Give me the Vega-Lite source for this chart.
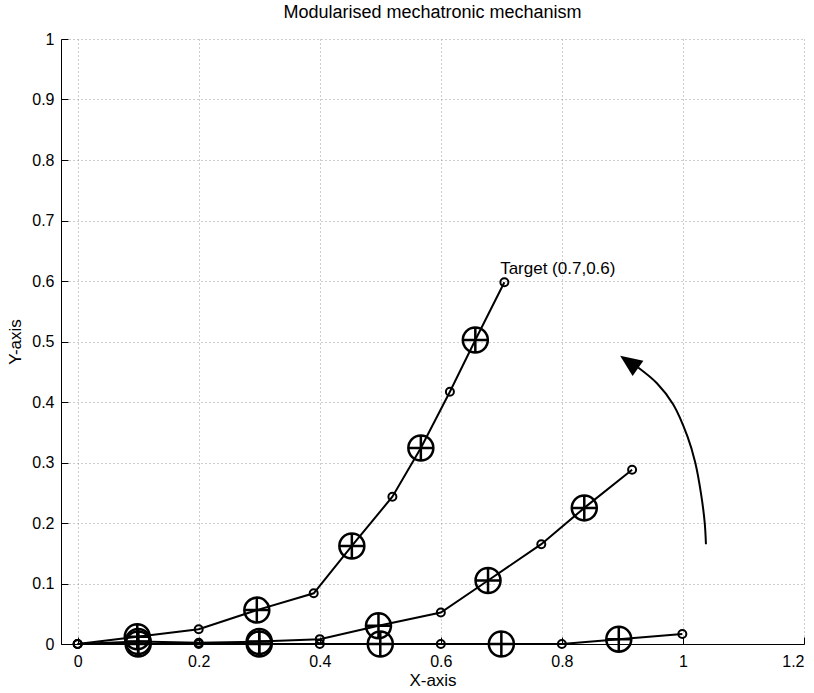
{
  "$schema": "https://vega.github.io/schema/vega-lite/v6.json",
  "autosize": {"type": "none"},
  "padding": {"left": 61, "top": 39, "right": 10, "bottom": 49},
  "width": 743,
  "height": 605,
  "background": "white",
  "title": {"text": "Modularised mechatronic mechanism", "font": "Liberation Sans", "fontSize": 18, "fontWeight": "normal", "color": "black", "offset": 9},
  "config": {
    "view": {"stroke": null},
    "axis": {
      "domainColor": "black", "domainWidth": 1, "tickColor": "black", "tickSize": -7, "tickWidth": 1,
      "labelFont": "Liberation Sans", "labelFontSize": 16, "labelColor": "black",
      "titleFont": "Liberation Sans", "titleFontSize": 17, "titleFontWeight": "normal", "titleColor": "black",
      "gridColor": "#9a9a9a", "gridDash": [1, 3], "gridOpacity": 1, "gridWidth": 1
    }
  },
  "datasets": {
    "mech": [
      {"series": "A", "i": 0, "x": 0, "y": 0, "kind": "o"},
      {"series": "A", "i": 1, "x": 0.0985, "y": 0.012, "kind": "plus"},
      {"series": "A", "i": 2, "x": 0.2, "y": 0.0243, "kind": "o"},
      {"series": "A", "i": 3, "x": 0.296, "y": 0.056, "kind": "plus"},
      {"series": "A", "i": 4, "x": 0.39, "y": 0.0838, "kind": "o"},
      {"series": "A", "i": 5, "x": 0.453, "y": 0.162, "kind": "plus"},
      {"series": "A", "i": 6, "x": 0.52, "y": 0.2435, "kind": "o"},
      {"series": "A", "i": 7, "x": 0.567, "y": 0.324, "kind": "plus"},
      {"series": "A", "i": 8, "x": 0.615, "y": 0.417, "kind": "o"},
      {"series": "A", "i": 9, "x": 0.657, "y": 0.5025, "kind": "plus"},
      {"series": "A", "i": 10, "x": 0.705, "y": 0.598, "kind": "o"},
      {"series": "B", "i": 0, "x": 0, "y": 0, "kind": "o"},
      {"series": "B", "i": 1, "x": 0.1, "y": 0.004, "kind": "plus"},
      {"series": "B", "i": 2, "x": 0.2, "y": 0.002, "kind": "o"},
      {"series": "B", "i": 3, "x": 0.3, "y": 0.004, "kind": "plus"},
      {"series": "B", "i": 4, "x": 0.4, "y": 0.008, "kind": "o"},
      {"series": "B", "i": 5, "x": 0.497, "y": 0.03, "kind": "plus"},
      {"series": "B", "i": 6, "x": 0.6, "y": 0.052, "kind": "o"},
      {"series": "B", "i": 7, "x": 0.678, "y": 0.105, "kind": "plus"},
      {"series": "B", "i": 8, "x": 0.766, "y": 0.165, "kind": "o"},
      {"series": "B", "i": 9, "x": 0.837, "y": 0.225, "kind": "plus"},
      {"series": "B", "i": 10, "x": 0.916, "y": 0.288, "kind": "o"},
      {"series": "C", "i": 0, "x": 0, "y": 0, "kind": "o"},
      {"series": "C", "i": 1, "x": 0.1, "y": 0, "kind": "plus"},
      {"series": "C", "i": 2, "x": 0.2, "y": 0, "kind": "o"},
      {"series": "C", "i": 3, "x": 0.3, "y": 0, "kind": "plus"},
      {"series": "C", "i": 4, "x": 0.4, "y": 0, "kind": "o"},
      {"series": "C", "i": 5, "x": 0.5, "y": 0, "kind": "plus"},
      {"series": "C", "i": 6, "x": 0.6, "y": 0, "kind": "o"},
      {"series": "C", "i": 7, "x": 0.7, "y": 0, "kind": "plus"},
      {"series": "C", "i": 8, "x": 0.8, "y": 0, "kind": "o"},
      {"series": "C", "i": 9, "x": 0.894, "y": 0.008, "kind": "plus"},
      {"series": "C", "i": 10, "x": 0.999, "y": 0.0165, "kind": "o"}
    ],
    "arc": [
      {"i": 0, "x": 1.038, "y": 0.165},
      {"i": 1, "x": 1.036, "y": 0.2},
      {"i": 2, "x": 1.0298, "y": 0.249},
      {"i": 3, "x": 1.0203, "y": 0.3},
      {"i": 4, "x": 1.0076, "y": 0.3427},
      {"i": 5, "x": 0.984, "y": 0.396},
      {"i": 6, "x": 0.957, "y": 0.431},
      {"i": 7, "x": 0.926, "y": 0.457}
    ],
    "head": [{"x": 0.911, "y": 0.466}],
    "label": [{"x": 0.698, "y": 0.6116, "t": "Target (0.7,0.6)"}]
  },
  "layer": [
    {
      "data": {"name": "mech"},
      "mark": {"type": "line", "color": "black", "strokeWidth": 2},
      "encoding": {
        "x": {"field": "x", "type": "quantitative", "scale": {"domain": [-0.0275, 1.2], "nice": false, "zero": false},
              "axis": {"title": "X-axis", "values": [0, 0.2, 0.4, 0.6, 0.8, 1, 1.2], "format": "~g", "labelPadding": 16, "titlePadding": 3, "grid": true}},
        "y": {"field": "y", "type": "quantitative", "scale": {"domain": [0, 1], "nice": false, "zero": false},
              "axis": {"title": "Y-axis", "values": [0, 0.1, 0.2, 0.3, 0.4, 0.5, 0.6, 0.7, 0.8, 0.9, 1], "format": "~g", "labelPadding": 14, "titlePadding": 7, "grid": true}},
        "detail": {"field": "series"},
        "order": {"field": "i", "type": "quantitative"}
      }
    },
    {
      "data": {"name": "mech"},
      "transform": [{"filter": "datum.kind === 'o'"}],
      "mark": {"type": "point", "shape": "circle", "filled": false, "color": "black", "strokeWidth": 2, "size": 64, "opacity": 1},
      "encoding": {
        "x": {"field": "x", "type": "quantitative"},
        "y": {"field": "y", "type": "quantitative"}
      }
    },
    {
      "data": {"name": "mech"},
      "transform": [{"filter": "datum.kind === 'plus'"}],
      "mark": {"type": "point", "shape": "M-1,0A1,1,0,1,0,1,0A1,1,0,1,0,-1,0M-1,0L1,0M0,-1L0,1", "filled": false, "color": "black", "strokeWidth": 2.5, "size": 625, "opacity": 1},
      "encoding": {
        "x": {"field": "x", "type": "quantitative"},
        "y": {"field": "y", "type": "quantitative"}
      }
    },
    {
      "data": {"name": "arc"},
      "mark": {"type": "line", "color": "black", "strokeWidth": 2, "interpolate": "catmull-rom"},
      "encoding": {
        "x": {"field": "x", "type": "quantitative"},
        "y": {"field": "y", "type": "quantitative"},
        "order": {"field": "i", "type": "quantitative"}
      }
    },
    {
      "data": {"name": "head"},
      "mark": {"type": "point", "shape": "M0,-1L0.86,1L-0.86,1Z", "filled": true, "color": "black", "size": 475, "angle": -55, "opacity": 1},
      "encoding": {
        "x": {"field": "x", "type": "quantitative"},
        "y": {"field": "y", "type": "quantitative"}
      }
    },
    {
      "data": {"name": "label"},
      "mark": {"type": "text", "align": "left", "baseline": "alphabetic", "font": "Liberation Sans", "fontSize": 17, "color": "black"},
      "encoding": {
        "x": {"field": "x", "type": "quantitative"},
        "y": {"field": "y", "type": "quantitative"},
        "text": {"field": "t"}
      }
    }
  ]
}
